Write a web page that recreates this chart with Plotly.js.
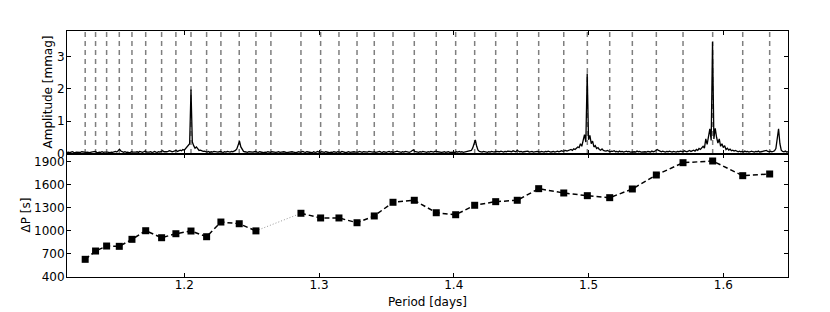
<!DOCTYPE html>
<html><head><meta charset="utf-8">
<script src="https://cdn.plot.ly/plotly-3.0.1.min.js"></script>
<style>body{margin:0;background:#fff}#chart{width:830px;height:312px}</style>
</head><body><div id="chart"></div>
<script>
// Amplitude spectrum, evenly sampled in period
const SPECTRUM_START = 1.113;   // days
const SPECTRUM_STEP = 0.001;    // days
const amplitude = [
 .03,.04,.02,.03,.05,.03,.02,.04,.03,.02,.03,.05,.04,.02,.03,.04,.03,.02,.04,.05,
 .04,.06,.03,.02,.04,.03,.05,.03,.04,.05,.04,.03,.02,.04,.03,.05,.06,.04,.08,.13,
 .07,.04,.03,.05,.03,.04,.02,.03,.05,.04,.03,.04,.05,.03,.06,.04,.03,.05,.07,.04,
 .03,.04,.05,.03,.04,.06,.04,.03,.05,.04,.06,.08,.05,.04,.05,.06,.08,.07,.05,.06,
 .07,.09,.06,.08,.10,.08,.12,.10,.15,.18,.22,.30,1.98,.35,.24,.16,.20,.12,.09,.10,
 .08,.06,.07,.05,.04,.06,.03,.05,.04,.06,.05,.03,.04,.05,.06,.04,.03,.05,.04,.06,
 .05,.04,.06,.05,.07,.09,.14,.24,.38,.20,.10,.06,.05,.04,.03,.05,.04,.03,.04,.05,
 .06,.04,.03,.05,.04,.03,.02,.04,.03,.05,.04,.03,.05,.04,.02,.03,.04,.05,.03,.04,
 .03,.05,.04,.02,.03,.04,.03,.05,.04,.03,.02,.04,.05,.03,.04,.06,.04,.03,.05,.04,
 .03,.04,.02,.05,.03,.04,.06,.04,.03,.05,.04,.03,.05,.04,.03,.02,.04,.03,.05,.04,
 .03,.05,.04,.03,.06,.04,.03,.02,.04,.05,.03,.04,.03,.05,.04,.03,.04,.06,.04,.03,
 .05,.04,.03,.04,.06,.05,.03,.04,.05,.03,.04,.05,.06,.04,.03,.05,.04,.03,.05,.06,
 .04,.05,.03,.04,.05,.07,.05,.04,.03,.05,.04,.06,.05,.04,.03,.05,.07,.11,.06,.05,
 .04,.03,.05,.04,.06,.05,.04,.03,.05,.04,.06,.05,.04,.06,.07,.05,.04,.05,.03,.04,
 .05,.03,.04,.05,.03,.04,.05,.04,.03,.05,.04,.06,.04,.05,.03,.04,.05,.06,.05,.07,
 .09,.16,.28,.42,.22,.10,.06,.05,.04,.06,.05,.04,.03,.05,.04,.06,.05,.04,.06,.05,
 .04,.05,.07,.05,.04,.06,.05,.07,.06,.04,.05,.08,.06,.05,.09,.07,.05,.06,.04,.05,
 .06,.05,.07,.04,.05,.06,.04,.05,.07,.06,.05,.04,.06,.05,.04,.06,.05,.07,.05,.04,
 .05,.06,.04,.05,.07,.05,.06,.08,.06,.07,.09,.07,.08,.10,.12,.09,.14,.12,.16,.20,
 .18,.30,.22,.40,.58,.35,2.48,.42,.56,.30,.38,.20,.24,.15,.18,.12,.10,.14,.09,.08,
 .07,.09,.06,.05,.07,.06,.08,.05,.06,.04,.07,.05,.06,.04,.05,.07,.05,.06,.04,.05,
 .06,.05,.04,.07,.05,.06,.04,.05,.06,.05,.04,.06,.05,.04,.07,.05,.06,.08,.12,.09,
 .06,.05,.07,.05,.04,.06,.05,.07,.05,.04,.06,.05,.04,.06,.05,.07,.06,.05,.08,.06,
 .05,.07,.09,.06,.08,.10,.07,.12,.09,.15,.12,.18,.22,.16,.45,.28,.55,.76,.40,3.46,
 .45,.78,.50,.32,.45,.22,.30,.18,.24,.12,.16,.10,.13,.08,.10,.07,.09,.06,.05,.07,
 .05,.06,.04,.07,.05,.06,.04,.05,.07,.05,.04,.06,.05,.07,.04,.05,.06,.05,.07,.09,
 .06,.05,.07,.05,.06,.08,.15,.40,.76,.30,.10,.06,.05,.07,.04,.05
];

// Period spacings
const dpPeriods = [1.1265,1.1342,1.1424,1.1518,1.1612,1.1714,1.1832,1.1938,1.2050,1.2166,
  1.2272,1.2408,1.2532,1.2866,1.3012,1.3148,1.3282,1.3410,1.3549,1.3707,1.3870,1.4014,
  1.4155,1.4311,1.4471,1.4630,1.4816,1.4991,1.5157,1.5325,1.5503,1.5701,1.5921,1.6144,1.6344];
const dpValues = [630,738,803,799,890,1002,911,963,998,924,1115,1093,1000,1229,1168,1168,
  1106,1194,1372,1398,1236,1210,1333,1380,1398,1549,1493,1458,1432,1545,1727,1887,1909,1718,1740];
const missingModePeriods = [1.2643];
const GAP_AFTER = 12; // dotted link between dpPeriods[12] and dpPeriods[13]

const xTicks = [1.2,1.3,1.4,1.5,1.6];
const ampTicks = [0,1,2,3];
const dpTicks = [400,700,1000,1300,1600,1900];
const titles = {x: 'Period [days]', amp: 'Amplitude [mmag]', dp: 'ΔP [s]'};

const modePeriods = dpPeriods.concat(missingModePeriods);

const dashX = dpPeriods.slice(0, GAP_AFTER + 1).concat([null], dpPeriods.slice(GAP_AFTER + 1));
const dashY = dpValues.slice(0, GAP_AFTER + 1).concat([null], dpValues.slice(GAP_AFTER + 1));

const font = {family: 'DejaVu Sans, sans-serif', size: 12, color: '#000'};

const traces = [
  {type: 'scatter', mode: 'lines', x0: SPECTRUM_START, dx: SPECTRUM_STEP, y: amplitude,
   xaxis: 'x2', yaxis: 'y2', line: {color: '#000', width: 1.3}, hoverinfo: 'skip'},
  {type: 'scatter', mode: 'lines',
   x: [dpPeriods[GAP_AFTER], dpPeriods[GAP_AFTER + 1]], y: [dpValues[GAP_AFTER], dpValues[GAP_AFTER + 1]],
   xaxis: 'x', yaxis: 'y', line: {color: '#999', width: 1, dash: '1px,2px'}},
  {type: 'scatter', mode: 'lines+markers', x: dashX, y: dashY, connectgaps: false,
   xaxis: 'x', yaxis: 'y', line: {color: '#000', width: 1.5, dash: '5px,3px'},
   marker: {symbol: 'square', size: 7, color: '#000'}}
];

const shapes = modePeriods.map(p => ({
  type: 'line', xref: 'x2', yref: 'y2 domain', x0: p, x1: p, y0: 0, y1: 1,
  line: {color: '#7f7f7f', width: 1.5, dash: '5px,4px'}, layer: 'below'
}));

const annotations = [
  {text: titles.x, xref: 'paper', yref: 'paper', x: 0.5, y: 0, xanchor: 'center', yanchor: 'middle',
   yshift: -25, showarrow: false, font: font},
  {text: titles.amp, xref: 'paper', yref: 'paper', x: 0, y: 0.75, xanchor: 'center', yanchor: 'middle',
   xshift: -20, textangle: -90, showarrow: false, font: font},
  {text: titles.dp, xref: 'paper', yref: 'paper', x: 0, y: 0.25, xanchor: 'center', yanchor: 'middle',
   xshift: -42, textangle: -90, showarrow: false, font: font}
];

const axCommon = {showline: true, linecolor: '#000', linewidth: 1, mirror: 'ticks',
  ticks: 'inside', ticklen: 4, tickcolor: '#000', tickwidth: 1, showgrid: false, zeroline: false,
  tickfont: font, automargin: false};

const layout = {
  width: 830, height: 312,
  margin: {l: 67, r: 42, t: 31, b: 35},
  paper_bgcolor: '#fff', plot_bgcolor: '#fff',
  showlegend: false, font: font, shapes: shapes, annotations: annotations,
  xaxis: Object.assign({}, axCommon, {domain: [0, 1], anchor: 'y', range: [1.113, 1.648],
    tickmode: 'array', tickvals: xTicks, ticktext: xTicks.map(v => v.toFixed(1)),
    ticklabelstandoff: -3}),
  xaxis2: Object.assign({}, axCommon, {domain: [0, 1], anchor: 'y2', matches: 'x', range: [1.113, 1.648],
    tickmode: 'array', tickvals: xTicks, showticklabels: false}),
  yaxis: Object.assign({}, axCommon, {domain: [0, 0.5], anchor: 'x', range: [400, 2000],
    tickmode: 'array', tickvals: dpTicks, ticktext: dpTicks.map(String),
    ticklabelstandoff: -1}),
  yaxis2: Object.assign({}, axCommon, {domain: [0.5, 1], anchor: 'x2', range: [-0.02, 3.8],
    tickmode: 'array', tickvals: ampTicks, ticktext: ampTicks.map(String),
    ticklabelstandoff: -1})
};

Plotly.newPlot('chart', traces, layout, {displayModeBar: false, staticPlot: true});
</script>
</body></html>
